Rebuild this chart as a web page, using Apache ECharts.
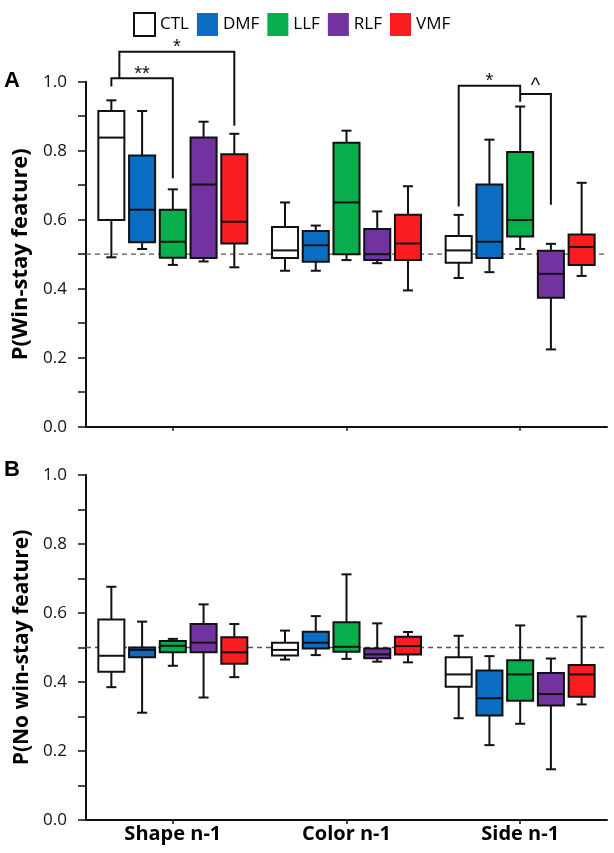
<!DOCTYPE html>
<html><head><meta charset="utf-8">
<script src="https://cdn.jsdelivr.net/npm/echarts@6/dist/echarts.min.js"></script>
<style>html,body{margin:0;padding:0;background:#fff}#c{width:614px;height:853px}</style>
</head><body><div id="c"></div><script>
// ---------------- data ----------------
const categories = ['Shape n-1', 'Color n-1', 'Side n-1'];
const groups = ['CTL', 'DMF', 'LLF', 'RLF', 'VMF'];
const groupColors = ['#FFFFFF', '#0B6DC1', '#07AE4B', '#7232A0', '#FB1C1F'];
const yTicks = [0, 0.2, 0.4, 0.6, 0.8, 1.0];
const chanceLevel = [0.5];

// Panel A: P(Win-stay feature) — [min, Q1, median, Q3, max] per category
const winCTL = [[0.491, 0.599, 0.838, 0.915, 0.946], [0.452, 0.489, 0.511, 0.579, 0.650], [0.431, 0.475, 0.511, 0.553, 0.614]];
const winDMF = [[0.515, 0.535, 0.629, 0.786, 0.915], [0.452, 0.478, 0.526, 0.567, 0.583], [0.448, 0.489, 0.536, 0.702, 0.832]];
const winLLF = [[0.469, 0.490, 0.536, 0.629, 0.688], [0.483, 0.500, 0.650, 0.823, 0.858], [0.515, 0.551, 0.599, 0.796, 0.928]];
const winRLF = [[0.479, 0.489, 0.702, 0.838, 0.884], [0.474, 0.483, 0.500, 0.573, 0.624], [0.224, 0.374, 0.443, 0.510, 0.530]];
const winVMF = [[0.462, 0.531, 0.594, 0.790, 0.849], [0.395, 0.483, 0.531, 0.614, 0.697], [0.437, 0.469, 0.521, 0.557, 0.707]];

// Panel B: P(No win-stay feature)
const noCTL = [[0.385, 0.430, 0.476, 0.581, 0.676], [0.465, 0.477, 0.493, 0.514, 0.549], [0.295, 0.386, 0.422, 0.472, 0.534]];
const noDMF = [[0.311, 0.472, 0.493, 0.500, 0.575], [0.478, 0.497, 0.514, 0.546, 0.591], [0.217, 0.303, 0.353, 0.433, 0.475]];
const noLLF = [[0.447, 0.486, 0.505, 0.519, 0.525], [0.467, 0.488, 0.502, 0.573, 0.712], [0.279, 0.346, 0.422, 0.463, 0.564]];
const noRLF = [[0.355, 0.486, 0.514, 0.568, 0.625], [0.459, 0.469, 0.480, 0.497, 0.570], [0.147, 0.332, 0.365, 0.426, 0.468]];
const noVMF = [[0.414, 0.453, 0.486, 0.530, 0.568], [0.457, 0.480, 0.504, 0.531, 0.545], [0.335, 0.357, 0.422, 0.449, 0.590]];

// significance brackets (panel A): [category, fromGroupSlot, toGroupSlot, yTop, yLeftEnd, yRightEnd, label]
const brackets = [
  [0, 0.26, 4, 1.087, 1.010, 0.872, '*'],
  [0, 0, 2, 1.010, 0.986, 0.720, '**'],
  [2, 0, 2, 0.988, 0.638, 0.942, '*'],
  [2, 2, 3, 0.964, 0.964, 0.643, '^']
];

const panelA = [winCTL, winDMF, winLLF, winRLF, winVMF];
const panelB = [noCTL, noDMF, noLLF, noRLF, noVMF];

// ---------------- layout constants ----------------
const SLOT = 0.177;        // fraction of band between neighbouring boxes
const BOXW = 0.15;         // box width, fraction of band
const CAPW = 0.058;        // whisker cap width, fraction of band
const FONT = "'Open Sans', 'Liberation Sans', sans-serif";

function slotX(api, cat, slot) {
  const band = api.size([1, 0])[0];
  return api.coord([cat, 0])[0] + (slot - 2) * SLOT * band;
}

function boxRenderer(slot, fill) {
  return function (params, api) {
    const cat = api.value(0);
    const band = api.size([1, 0])[0];
    const cx = slotX(api, cat, slot);
    const y = i => api.coord([cat, api.value(i)])[1];
    const yMin = y(1), yQ1 = y(2), yMed = y(3), yQ3 = y(4), yMax = y(5);
    const hw = BOXW * band / 2, cw = CAPW * band / 2;
    const st = { stroke: '#111', lineWidth: 2 };
    return {
      type: 'group', children: [
        { type: 'line', shape: { x1: cx, y1: yMax, x2: cx, y2: yQ3 }, style: st },
        { type: 'line', shape: { x1: cx, y1: yQ1, x2: cx, y2: yMin }, style: st },
        { type: 'line', shape: { x1: cx - cw, y1: yMax, x2: cx + cw, y2: yMax }, style: st },
        { type: 'line', shape: { x1: cx - cw, y1: yMin, x2: cx + cw, y2: yMin }, style: st },
        { type: 'rect', shape: { x: cx - hw, y: yQ3, width: 2 * hw, height: yQ1 - yQ3 }, style: { fill: fill, stroke: '#111', lineWidth: 2 } },
        { type: 'line', shape: { x1: cx - hw, y1: yMed, x2: cx + hw, y2: yMed }, style: st }
      ]
    };
  };
}

function boxSeries(gridIdx, data) {
  return groups.map((g, k) => ({
    type: 'custom', name: g,
    xAxisIndex: gridIdx, yAxisIndex: gridIdx,
    itemStyle: { color: groupColors[k] },
    z: 3,
    encode: { x: 0, y: [1, 2, 3, 4, 5] },
    data: categories.map((c, i) => [i].concat(data[k][i])),
    renderItem: boxRenderer(k, groupColors[k])
  }));
}

function refLineSeries(gridIdx) {
  return {
    type: 'custom', name: 'chance', silent: true, z: 1,
    xAxisIndex: gridIdx, yAxisIndex: gridIdx,
    encode: { y: 0 },
    data: chanceLevel.map(v => [v]),
    renderItem: function (params, api) {
      const cs = params.coordSys;
      const yy = api.coord([0, api.value(0)])[1];
      return { type: 'line', shape: { x1: cs.x, y1: yy, x2: cs.x + cs.width, y2: yy },
        style: { stroke: '#555', lineWidth: 1.3, lineDash: [5, 4] } };
    }
  };
}

const bracketSeries = {
  type: 'custom', name: 'sig', silent: true, z: 4,
  xAxisIndex: 0, yAxisIndex: 0, clip: false,
  encode: { x: 0, y: 3 },
  data: brackets,
  renderItem: function (params, api) {
    const cat = api.value(0);
    const x1 = slotX(api, cat, api.value(1));
    const x2 = slotX(api, cat, api.value(2));
    const yt = api.coord([cat, api.value(3)])[1];
    const yl = api.coord([cat, api.value(4)])[1];
    const yr = api.coord([cat, api.value(5)])[1];
    const st = { stroke: '#111', lineWidth: 2, fill: null };
    const label = brackets[params.dataIndex][6];
    return {
      type: 'group', children: [
        { type: 'polyline', shape: { points: [[x1, yl], [x1, yt], [x2, yt], [x2, yr]] }, style: st },
        { type: 'text', x: (x1 + x2) / 2, y: yt + (label === '^' ? 2 : 6),
          style: { text: label, fill: '#111', font: "20px 'Liberation Sans', sans-serif", align: 'center', verticalAlign: 'bottom' } }
      ]
    };
  }
};

function xAxisOpt(gridIdx, showLabel) {
  return {
    type: 'category', gridIndex: gridIdx, data: categories,
    axisLine: { lineStyle: { color: '#111', width: 2 } },
    axisTick: { show: true, alignWithLabel: true, length: 4, lineStyle: { color: '#111', width: 1.5 } },
    axisLabel: { show: showLabel, color: '#000', fontFamily: FONT, fontWeight: 'bold', fontSize: 20, margin: 4 },
    splitLine: { show: false }
  };
}

function yAxisOpt(gridIdx, name, nameSize) {
  return {
    type: 'value', gridIndex: gridIdx, min: yTicks[0], max: yTicks[yTicks.length - 1], interval: 0.2,
    name: name, nameLocation: 'middle', nameGap: 40,
    nameTextStyle: { color: '#000', fontFamily: FONT, fontWeight: 'bold', fontSize: nameSize },
    axisLine: { show: true, lineStyle: { color: '#111', width: 2 } },
    axisTick: { show: true, length: 8, lineStyle: { color: '#111', width: 1.5 } },
    minorTick: { show: true, splitNumber: 2, length: 8, lineStyle: { color: '#111', width: 1.5 } },
    axisLabel: { color: '#111', fontFamily: FONT, fontSize: 17, margin: 19, formatter: v => v.toFixed(1) },
    splitLine: { show: false }
  };
}

const chart = echarts.init(document.getElementById('c'), null, { renderer: 'canvas' });
chart.setOption({
  backgroundColor: '#fff',
  animation: false,
  legend: {
    top: 7, left: 128, itemWidth: 21, itemHeight: 23, itemGap: 8,
    textStyle: { color: '#000', fontFamily: FONT, fontSize: 17 },
    data: groups.map((g, k) => ({
      name: g, icon: 'rect',
      itemStyle: k === 0 ? { color: '#fff', borderColor: '#111', borderWidth: 2 } : { color: groupColors[k], borderWidth: 0 }
    }))
  },
  grid: [
    { left: 86, right: 7, top: 81.7, height: 345 },
    { left: 86, right: 7, top: 475, height: 345 }
  ],
  xAxis: [xAxisOpt(0, false), xAxisOpt(1, true)],
  yAxis: [yAxisOpt(0, 'P(Win-stay feature)', 22), yAxisOpt(1, 'P(No win-stay feature)', 21)],
  graphic: [
    { type: 'text', left: 4, top: 70, style: { text: 'A', font: "bold 22px 'Liberation Sans', Arial, sans-serif", fill: '#000' } },
    { type: 'text', left: 4, top: 459, style: { text: 'B', font: "bold 22px 'Liberation Sans', Arial, sans-serif", fill: '#000' } }
  ],
  series: [refLineSeries(0), refLineSeries(1)]
    .concat(boxSeries(0, panelA))
    .concat(boxSeries(1, panelB))
    .concat([bracketSeries])
});
</script></body></html>
